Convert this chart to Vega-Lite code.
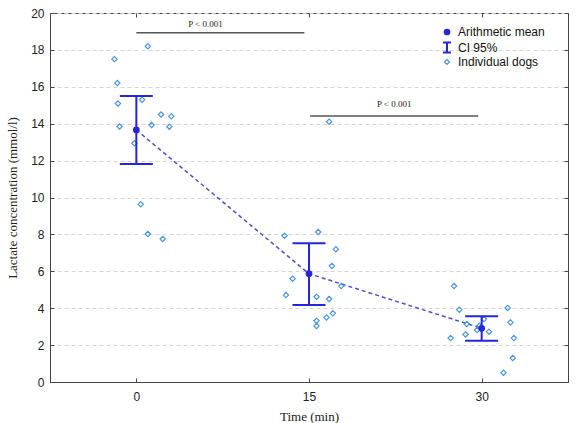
{
  "$schema": "https://vega.github.io/schema/vega-lite/v6.json",
  "width": 518,
  "height": 369,
  "autosize": {"type": "none"},
  "padding": {"left": 50, "top": 13, "right": 17, "bottom": 41},
  "background": "white",
  "config": {
    "view": {"stroke": "#444", "strokeWidth": 1},
    "axis": {"labelFont": "Liberation Sans", "labelFontSize": 12, "labelColor": "#222", "titleFont": "Liberation Serif", "titleFontSize": 13, "titleFontWeight": "normal", "titleColor": "#222", "domainColor": "#444", "tickColor": "#444"},
    "legend": {"orient": "none", "title": null, "padding": 0, "labelFont": "Liberation Sans", "labelFontSize": 12, "labelColor": "#111", "labelOffset": 5, "legendX": 391}
  },
  "datasets": {
    "dogs": [
      {"t": 1.0, "v": 18.2}, {"t": -1.9, "v": 17.5}, {"t": -1.65, "v": 16.2}, {"t": -1.6, "v": 15.1},
      {"t": 0.5, "v": 15.3}, {"t": 2.15, "v": 14.5}, {"t": 3.04, "v": 14.4}, {"t": -1.45, "v": 13.85},
      {"t": 1.33, "v": 13.93}, {"t": 2.87, "v": 13.84}, {"t": -0.17, "v": 12.94}, {"t": 0.38, "v": 9.63},
      {"t": 1.0, "v": 8.02}, {"t": 2.29, "v": 7.75},
      {"t": 16.75, "v": 14.11}, {"t": 12.87, "v": 7.93}, {"t": 15.8, "v": 8.13}, {"t": 17.33, "v": 7.19},
      {"t": 16.99, "v": 6.29}, {"t": 13.57, "v": 5.6}, {"t": 17.8, "v": 5.2}, {"t": 13.0, "v": 4.71},
      {"t": 15.65, "v": 4.62}, {"t": 16.75, "v": 4.5}, {"t": 17.07, "v": 3.72}, {"t": 16.52, "v": 3.5},
      {"t": 15.65, "v": 3.32}, {"t": 15.65, "v": 3.04},
      {"t": 27.6, "v": 5.2}, {"t": 28.06, "v": 3.92}, {"t": 32.26, "v": 4.01}, {"t": 32.5, "v": 3.23},
      {"t": 28.7, "v": 3.14}, {"t": 28.6, "v": 2.58}, {"t": 27.3, "v": 2.38}, {"t": 30.64, "v": 2.73},
      {"t": 29.6, "v": 2.82}, {"t": 30.2, "v": 3.41}, {"t": 29.8, "v": 3.05}, {"t": 32.8, "v": 2.38},
      {"t": 32.7, "v": 1.3}, {"t": 31.9, "v": 0.5}
    ],
    "means": [
      {"time": 0, "mean": 13.66, "lo": 11.82, "hi": 15.5},
      {"time": 15, "mean": 5.87, "lo": 4.17, "hi": 7.52},
      {"time": 30, "mean": 2.91, "lo": 2.24, "hi": 3.56}
    ],
    "brackets": [
      {"x1": 0, "x2": 14.6, "y": 18.93, "lx": 6.0, "ly": 19.4, "label": "P < 0.001"},
      {"x1": 15.1, "x2": 29.7, "y": 14.42, "lx": 22.4, "ly": 15.07, "label": "P < 0.001"}
    ]
  },
  "layer": [
    {
      "data": {"name": "means"},
      "mark": {"type": "line", "color": "#5050c8", "strokeWidth": 1.5, "strokeDash": [4, 3]},
      "encoding": {
        "x": {"field": "time", "type": "quantitative", "scale": {"domain": [-7.5, 37.5], "nice": false, "zero": false},
          "axis": {"orient": "bottom", "title": "Time (min)", "values": [0, 15, 30], "grid": false, "tickSize": -4, "labelPadding": 13, "titlePadding": 8}},
        "y": {"field": "mean", "type": "quantitative", "scale": {"domain": [0, 20], "nice": false},
          "axis": {"orient": "left", "title": "Lactate concentration (mmol/l)", "values": [0, 2, 4, 6, 8, 10, 12, 14, 16, 18, 20], "grid": true, "gridDash": [4, 3], "gridColor": "#d4d4d4", "tickSize": -4, "labelPadding": 10, "titlePadding": 11}}
      }
    },
    {
      "data": {"name": "dogs"},
      "mark": {"type": "point", "filled": false, "strokeWidth": 1.2, "size": 28, "color": "#4a95e3", "opacity": 1},
      "encoding": {
        "x": {"field": "t", "type": "quantitative", "axis": null},
        "y": {"field": "v", "type": "quantitative", "axis": null},
        "shape": {"datum": "Individual dogs", "type": "nominal", "scale": {"range": ["diamond"]},
          "legend": {"legendY": 43, "symbolStrokeColor": "#4a95e3", "symbolFillColor": "transparent", "symbolSize": 25, "symbolStrokeWidth": 1.2, "symbolOpacity": 1}}
      }
    },
    {
      "data": {"name": "means"},
      "mark": {"type": "rule", "strokeWidth": 2},
      "encoding": {
        "x": {"field": "time", "type": "quantitative", "axis": null},
        "y": {"field": "lo", "type": "quantitative", "axis": null},
        "y2": {"field": "hi"},
        "stroke": {"datum": "CI 95%", "type": "nominal", "scale": {"range": ["#2626d9"]},
          "legend": {"legendY": 28.5, "symbolType": "M-0.8,-1H0.8M0,-1V1M-0.8,1H0.8", "symbolSize": 100, "symbolStrokeWidth": 2, "symbolFillColor": "transparent"}}
      }
    },
    {
      "data": {"name": "means"},
      "mark": {"type": "tick", "orient": "horizontal", "color": "#2626d9", "thickness": 2, "size": 33, "opacity": 1},
      "encoding": {
        "x": {"field": "time", "type": "quantitative", "axis": null},
        "y": {"field": "lo", "type": "quantitative", "axis": null}
      }
    },
    {
      "data": {"name": "means"},
      "mark": {"type": "tick", "orient": "horizontal", "color": "#2626d9", "thickness": 2, "size": 33, "opacity": 1},
      "encoding": {
        "x": {"field": "time", "type": "quantitative", "axis": null},
        "y": {"field": "hi", "type": "quantitative", "axis": null}
      }
    },
    {
      "data": {"name": "means"},
      "mark": {"type": "point", "filled": true, "shape": "circle", "size": 45, "opacity": 1},
      "encoding": {
        "x": {"field": "time", "type": "quantitative", "axis": null},
        "y": {"field": "mean", "type": "quantitative", "axis": null},
        "fill": {"datum": "Arithmetic mean", "type": "nominal", "scale": {"range": ["#2626d9"]},
          "legend": {"legendY": 13, "symbolType": "circle", "symbolSize": 45, "symbolOpacity": 1}}
      }
    },
    {
      "data": {"name": "brackets"},
      "mark": {"type": "rule", "color": "#555", "strokeWidth": 1.5},
      "encoding": {
        "x": {"field": "x1", "type": "quantitative", "axis": null},
        "x2": {"field": "x2"},
        "y": {"field": "y", "type": "quantitative", "axis": null}
      }
    },
    {
      "data": {"name": "brackets"},
      "mark": {"type": "text", "font": "Liberation Serif", "fontSize": 9, "color": "#222"},
      "encoding": {
        "x": {"field": "lx", "type": "quantitative", "axis": {"orient": "top", "values": [0, 15, 30], "labels": false, "title": null, "grid": false, "domain": false, "tickSize": -4}},
        "y": {"field": "ly", "type": "quantitative", "axis": {"orient": "right", "values": [0, 2, 4, 6, 8, 10, 12, 14, 16, 18, 20], "labels": false, "title": null, "grid": false, "domain": false, "tickSize": -4}},
        "text": {"field": "label"}
      }
    }
  ],
  "resolve": {"axis": {"x": "independent", "y": "independent"}}
}
